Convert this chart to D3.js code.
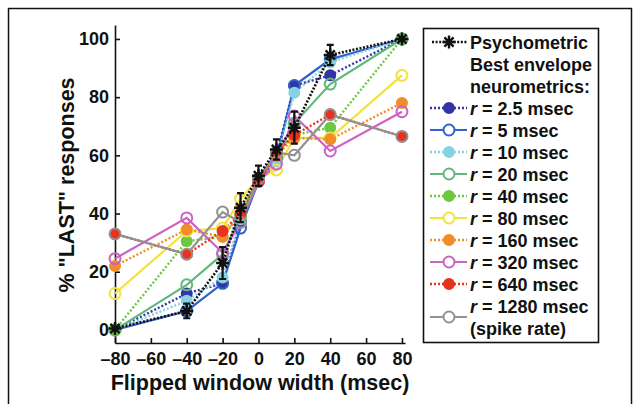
<!DOCTYPE html>
<html>
<head>
<meta charset="utf-8">
<script src="https://cdn.jsdelivr.net/npm/d3@7"></script>
<style>
  body { margin: 0; background: #fff; }
  svg { display: block; font-family: 'Liberation Sans', Arial, sans-serif; font-weight: bold; }
</style>
</head>
<body>
<script>
'use strict';

const windowWidths = [-80, -40, -20, -10, 0, 10, 20, 40, 80];
const yTicks = [0, 20, 40, 60, 80, 100];
const xTicks = [-80, -60, -40, -20, 0, 20, 40, 60, 80];

const psychometric = [0.5, 6.5, 23, 42, 53, 62, 69.5, 94.5, 100];
const psychometricErr = [0, 2.5, 5.5, 5, 3.5, 3.5, 5.5, 3.5, 0];

const seriesLabels = ['2.5', '5', '10', '20', '40', '80', '160', '320', '640', '1280'];
const r2_5 = [0, 12.5, 16, 37, 52, 60, 84, 87.5, 100];
const r5 = [0, 6.5, 16, 35, 51, 59, 84, 93, 100];
const r10 = [0, 10, 18, 38, 51, 58, 81.5, 92, 100];
const r20 = [0, 15.5, 26, 39, 52, 60, 71, 84.5, 100];
const r40 = [0, 30.5, 32, 40, 52, 61, 67, 69.5, 100];
const r80 = [12.5, 34, 35, 45, 52, 55, 66, 66, 87.5];
const r160 = [22, 34.5, 32, 40, 51, 60, 66, 65.5, 78];
const r320 = [24.5, 38.5, 26.5, 37, 51, 57, 73.5, 61.5, 75];
const r640 = [33, 26, 34, 40, 51, 61, 67, 74, 66.5];
const r1280 = [33, 26, 40.5, 37, 52, 61, 60, 74, 66.5];

const seriesValues = [r2_5, r5, r10, r20, r40, r80, r160, r320, r640, r1280];
const seriesColors = ['#3434a8', '#2f62cc', '#86d2e2', '#62b87c', '#6cc840',
  '#f2e23c', '#f28c2a', '#cc62c2', '#e8321e', '#929292'];

const width = 639;
const height = 404;

const x = d3.scaleLinear().domain([-80, 81.7]).range([115, 405]);
const y = d3.scaleLinear().domain([-4.5, 104.8]).range([343, 25]);

const svg = d3.select('body').append('svg')
  .attr('width', width)
  .attr('height', height);

// outer frame (open at the bottom)
svg.append('path')
  .attr('d', 'M8.5,404V8.5H631.5V404')
  .attr('fill', 'none')
  .attr('stroke', '#111')
  .attr('stroke-width', 1.5);

const series = seriesLabels.map(function(label, i) {
  return {
    label: label,
    values: seriesValues[i],
    color: seriesColors[i],
    filled: i % 2 === 0,
  };
});

// axes
const xAxis = svg.append('g')
  .attr('transform', 'translate(0,' + y.range()[0] + ')')
  .call(d3.axisBottom(x)
    .tickValues(xTicks)
    .tickSizeInner(-5)
    .tickSizeOuter(0)
    .tickPadding(9)
    .tickFormat(function(d) { return (d < 0 ? '\u2013' : '') + Math.abs(d); }));

const yAxis = svg.append('g')
  .attr('transform', 'translate(' + x.range()[0] + ',0)')
  .call(d3.axisLeft(y)
    .tickValues(yTicks)
    .tickSizeInner(-5)
    .tickSizeOuter(0)
    .tickPadding(6));

[xAxis, yAxis].forEach(function(g) {
  g.select('.domain').attr('stroke', '#111').attr('stroke-width', 1.6);
  g.selectAll('.tick line').attr('stroke', '#111').attr('stroke-width', 1.6);
  g.selectAll('.tick text')
    .attr('fill', '#111')
    .style('font-size', '18px')
    .style('font-weight', 'bold')
    .style('font-family', "'Liberation Sans', Arial, sans-serif");
});

svg.append('text')
  .attr('x', 260)
  .attr('y', 390)
  .attr('text-anchor', 'middle')
  .attr('fill', '#111')
  .style('font-size', '21.5px')
  .text('Flipped window width (msec)');

svg.append('text')
  .attr('transform', 'translate(74,185) rotate(-90)')
  .attr('text-anchor', 'middle')
  .attr('fill', '#111')
  .style('font-size', '21.5px')
  .text('% "LAST" responses');

// series lines and markers
const line = d3.line()
  .x(function(d, i) { return x(windowWidths[i]); })
  .y(function(d) { return y(d); });

const plot = svg.append('g');

series.forEach(function(s) {
  plot.append('path')
    .datum(s.values)
    .attr('d', line)
    .attr('fill', 'none')
    .attr('stroke', s.color)
    .attr('stroke-width', s.filled ? 2.4 : 2.2)
    .attr('stroke-dasharray', s.filled ? '2,2' : null);
});

series.forEach(function(s) {
  plot.selectAll(null)
    .data(s.values)
    .enter().append('circle')
    .attr('cx', function(d, i) { return x(windowWidths[i]); })
    .attr('cy', function(d) { return y(d); })
    .attr('r', s.filled ? 5 : 5.5)
    .attr('fill', s.filled ? s.color : 'none')
    .attr('stroke', s.color)
    .attr('stroke-width', 2);
});

// psychometric curve with error bars
plot.append('path')
  .datum(psychometric)
  .attr('d', line)
  .attr('fill', 'none')
  .attr('stroke', '#111')
  .attr('stroke-width', 2.6)
  .attr('stroke-dasharray', '2,1.6');

windowWidths.forEach(function(w, i) {
  const err = psychometricErr[i];
  if (!err) return;
  const cx = x(w);
  const y0 = y(psychometric[i] - err);
  const y1 = y(psychometric[i] + err);
  plot.append('path')
    .attr('d', 'M' + cx + ',' + y0 + 'V' + y1 +
      'M' + (cx - 3.5) + ',' + y0 + 'H' + (cx + 3.5) +
      'M' + (cx - 3.5) + ',' + y1 + 'H' + (cx + 3.5))
    .attr('fill', 'none')
    .attr('stroke', '#111')
    .attr('stroke-width', 2.2);
});

function asterisk(cx, cy, r) {
  let d = '';
  for (let k = 0; k < 4; k++) {
    const a = k * Math.PI / 4;
    const dx = r * Math.cos(a);
    const dy = r * Math.sin(a);
    d += 'M' + (cx - dx) + ',' + (cy - dy) + 'L' + (cx + dx) + ',' + (cy + dy);
  }
  return d;
}

plot.selectAll(null)
  .data(psychometric)
  .enter().append('path')
  .attr('d', function(d, i) { return asterisk(x(windowWidths[i]), y(d), 6.5); })
  .attr('fill', 'none')
  .attr('stroke', '#111')
  .attr('stroke-width', 2.4);

// legend
const legend = svg.append('g');
const rowY = function(i) { return 42 + 22 * i; };

legend.append('rect')
  .attr('x', 423.5)
  .attr('y', 28.5)
  .attr('width', 175)
  .attr('height', 314)
  .attr('fill', '#fff')
  .attr('stroke', '#111')
  .attr('stroke-width', 1.6);

function legendText(i, content, italicR) {
  const t = legend.append('text')
    .attr('x', 470)
    .attr('y', rowY(i) + 6.5)
    .attr('fill', '#111')
    .style('font-size', '18px');
  if (italicR) {
    t.append('tspan').style('font-style', 'italic').text('r');
    t.append('tspan').text(content);
  } else {
    t.text(content);
  }
}

legend.append('path')
  .attr('d', 'M432,' + rowY(0) + 'H467')
  .attr('stroke', '#111')
  .attr('stroke-width', 2.4)
  .attr('stroke-dasharray', '2,1.6');
legend.append('path')
  .attr('d', asterisk(449, rowY(0), 6.5))
  .attr('stroke', '#111')
  .attr('stroke-width', 2.4);
legendText(0, 'Psychometric');
legendText(1, 'Best envelope');
legendText(2, 'neurometrics:');

series.forEach(function(s, i) {
  const row = i + 3;
  const last = i === series.length - 1;
  const my = last ? rowY(row) + 11 : rowY(row);
  legend.append('path')
    .attr('d', 'M430,' + my + 'H467')
    .attr('stroke', s.color)
    .attr('stroke-width', s.filled ? 2.4 : 2.2)
    .attr('stroke-dasharray', s.filled ? '2,2' : null);
  legend.append('circle')
    .attr('cx', 449)
    .attr('cy', my)
    .attr('r', s.filled ? 5 : 5.5)
    .attr('fill', s.filled ? s.color : '#fff')
    .attr('stroke', s.color)
    .attr('stroke-width', 2);
  legendText(row, ' = ' + s.label + ' msec', true);
  if (last) legendText(row + 1, '(spike rate)');
});
</script>
</body>
</html>
